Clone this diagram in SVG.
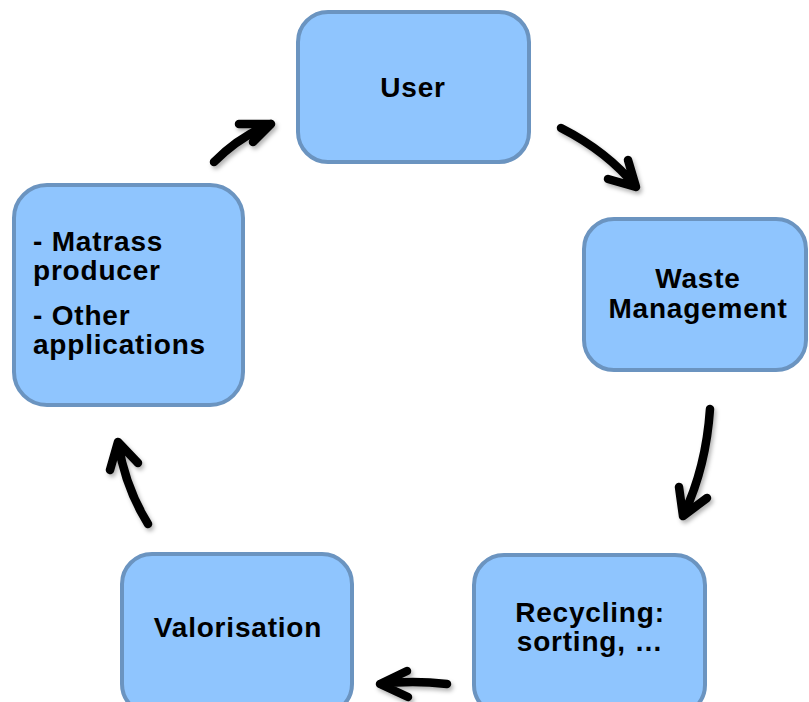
<svg xmlns="http://www.w3.org/2000/svg" width="809" height="702" viewBox="0 0 809 702">
<defs>
<filter id="sh" x="-30%" y="-30%" width="160%" height="160%">
<feDropShadow dx="2" dy="3" stdDeviation="2" flood-color="#000" flood-opacity="0.3"/>
</filter>
</defs>
<style>
.box{fill:#8fc5fe;stroke:#6b94c0;stroke-width:4}
.t{font-family:"Liberation Sans",Arial,sans-serif;font-weight:bold;font-size:28px;letter-spacing:0.8px;fill:#000}
.c{text-anchor:middle}
.arr{fill:none;stroke:#000;stroke-width:8.5;stroke-linecap:round;stroke-linejoin:round}
</style>
<rect width="809" height="702" fill="#fff"/>
<g id="connectors" filter="url(#sh)">
<path class="arr" d="M561,128 Q608,152 636,187 M628,160 L636,187 L608,179"/>
<path class="arr" d="M710,409 Q706,468 683,516 M679,487 L683,516 L707,498"/>
<path class="arr" d="M447,684 Q412,680 380,684 M407,671 L380,684 L408,697"/>
<path class="arr" d="M148,524 Q125,487 118,442 M110,470 L118,442 L138,463"/>
<path class="arr" d="M214,162 Q240,136 271,124 M239,124 L271,124 L253,142"/>
</g>
<g id="node-user">
<rect class="box" x="298" y="12" width="231" height="150" rx="30"/>
<text class="t c" x="413" y="97">User</text>
</g>
<g id="node-waste">
<rect class="box" x="584" y="219" width="222" height="151" rx="30"/>
<text class="t c" x="698" y="288">Waste</text>
<text class="t c" x="698" y="318">Management</text>
</g>
<g id="node-recycling">
<rect class="box" x="474" y="555" width="231" height="160" rx="30"/>
<text class="t c" x="590" y="622">Recycling:</text>
<text class="t c" x="590" y="651">sorting, …</text>
</g>
<g id="node-valorisation">
<rect class="box" x="122" y="554" width="230" height="160" rx="30"/>
<text class="t c" x="238" y="637">Valorisation</text>
</g>
<g id="node-producer">
<rect class="box" x="14" y="185" width="229" height="220" rx="33"/>
<text class="t" x="33" y="251">- Matrass</text>
<text class="t" x="33" y="280">producer</text>
<text class="t" x="33" y="325">- Other</text>
<text class="t" x="33" y="354">applications</text>
</g>
</svg>
